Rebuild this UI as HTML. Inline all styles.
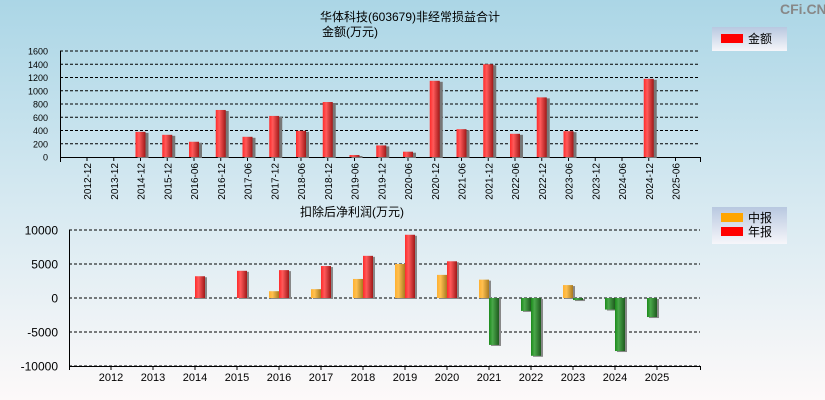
<!DOCTYPE html>
<html><head><meta charset="utf-8">
<style>
body{margin:0;width:825px;height:400px;overflow:hidden;font-family:"Liberation Sans","Noto Sans CJK SC",sans-serif;}
svg{display:block}
</style></head>
<body>
<svg id="c" width="825" height="400" xmlns="http://www.w3.org/2000/svg" font-family="Liberation Sans, Noto Sans CJK SC, sans-serif">
<defs>
<linearGradient id="bg" x1="0" y1="0" x2="0" y2="1"><stop offset="0" stop-color="#abd6e6"/><stop offset="0.5" stop-color="#d6e9f1"/><stop offset="1" stop-color="#fdf9f9"/></linearGradient>
<linearGradient id="red" x1="0" x2="1"><stop offset="0" stop-color="#ff2a2a"/><stop offset="0.35" stop-color="#ff5a5a"/><stop offset="1" stop-color="#a01818"/></linearGradient>
<linearGradient id="org" x1="0" x2="1"><stop offset="0" stop-color="#ffb030"/><stop offset="0.35" stop-color="#ffc050"/><stop offset="1" stop-color="#a87a20"/></linearGradient>
<linearGradient id="grn" x1="0" x2="1"><stop offset="0" stop-color="#1a8a1a"/><stop offset="0.35" stop-color="#4aa84a"/><stop offset="1" stop-color="#1e5a1e"/></linearGradient>
<linearGradient id="lg" x1="0" y1="0" x2="0" y2="1"><stop offset="0" stop-color="#b8c8e0"/><stop offset="1" stop-color="#f6f6fa"/></linearGradient>
</defs>
<rect width="825" height="400" fill="url(#bg)"/>
<text x="780" y="14" font-size="14" fill="#888" font-weight="bold">CFi.CN</text>
<text x="410" y="21" font-size="12" text-anchor="middle">华体科技(603679)非经常损益合计</text>
<text x="322" y="36" font-size="12">金额(万元)</text>
<g>
<rect x="712" y="27" width="75" height="24" fill="url(#lg)"/>
<rect x="721" y="34" width="22" height="9" fill="#f00"/>
<text x="748" y="43" font-size="12">金额</text>
</g>
<text x="352" y="216" font-size="12" text-anchor="middle">扣除后净利润(万元)</text>
<g>
<rect x="712" y="207" width="75" height="37" fill="url(#lg)"/>
<rect x="721" y="213" width="22" height="9" fill="#ffa500"/>
<text x="748" y="222" font-size="12">中报</text>
<rect x="721" y="227" width="22" height="9" fill="#f00"/>
<text x="748" y="236" font-size="12">年报</text>
</g>
<g id="top"></g><g id="bot"></g>
</svg>
<script>
const topCats=["2012-12","2013-12","2014-12","2015-12","2016-06","2016-12","2017-06","2017-12","2018-06","2018-12","2019-06","2019-12","2020-06","2020-12","2021-06","2021-12","2022-06","2022-12","2023-06","2023-12","2024-06","2024-12","2025-06"];
const topVals=[0,0,380,335,230,710,305,620,395,830,30,175,80,1150,420,1400,350,900,390,0,0,1180,0];
const topTicks=[0,200,400,600,800,1000,1200,1400,1600];
const botYears=["2012","2013","2014","2015","2016","2017","2018","2019","2020","2021","2022","2023","2024","2025"];
const midVals=[0,0,0,0,1000,1300,2800,5000,3400,2700,-1900,1900,-1700,-2800];
const annVals=[0,0,3200,4000,4100,4700,6200,9300,5400,-6900,-8500,-300,-7800,0];
const botTicks=[-10000,-5000,0,5000,10000];

const NS="http://www.w3.org/2000/svg";
function mk(p,t,a,txt){const e=document.createElementNS(NS,t);for(const k in a)e.setAttribute(k,a[k]);if(txt!==undefined)e.textContent=txt;p.appendChild(e);return e;}

// top chart
const T=document.getElementById('top');
const ty=v=>157-v*(106/1600);
const tx=i=>87+i*26.75;
topTicks.forEach(v=>{
  if(v>0){const l=mk(T,'line',{x1:60,x2:700,y1:ty(v),y2:ty(v),stroke:'#000','stroke-dasharray':'3,2','stroke-width':1});
  
  }
  const t=mk(T,'text',{x:48,y:ty(v)+3.5,'font-size':9,'text-anchor':'end'},v);
  
  
});
mk(T,'line',{x1:60.5,x2:60.5,y1:51,y2:162,stroke:'#000'});
mk(T,'line',{x1:60,x2:700,y1:157.5,y2:157.5,stroke:'#000'});
mk(T,'line',{x1:700.5,x2:700.5,y1:157,y2:162,stroke:'#000'});
topCats.forEach((c,i)=>{
  const x=tx(i);
  mk(T,'line',{x1:x,x2:x,y1:157,y2:161,stroke:'#000'});
  const t=mk(T,'text',{x:0,y:0,'font-size':10,'text-anchor':'end',transform:`translate(${x+4},${163}) rotate(-90)`},c);
  
  
  if(topVals[i]>0){
    const h=157-ty(topVals[i]);
    mk(T,'rect',{x:x-3,y:ty(topVals[i])+1,width:11,height:h,fill:'#777'});
    const r=mk(T,'rect',{x:x-5,y:ty(topVals[i]),width:10,height:h,fill:'url(#red)'});
    
    
  }
});

// bottom chart
const B=document.getElementById('bot');
const by=v=>298-v*(68/10000);
const bx=i=>111+i*42;
botTicks.forEach(v=>{
  const l=mk(B,'line',{x1:69,x2:700,y1:by(v),y2:by(v),stroke:'#000','stroke-dasharray':'3,2'});
  
  
  const t=mk(B,'text',{x:58,y:by(v)+4.5,'font-size':12,'text-anchor':'end'},v);
  
  
});
mk(B,'rect',{x:69,y:230,width:631,height:136,fill:'none'});
mk(B,'line',{x1:69.5,x2:69.5,y1:230,y2:370,stroke:'#000'});
mk(B,'line',{x1:69,x2:700,y1:366.5,y2:366.5,stroke:'#000'});
mk(B,'line',{x1:700.5,x2:700.5,y1:366,y2:370,stroke:'#000'});
function bar(x,v,col,name){
  if(v===0)return;
  const y0=by(Math.max(v,0)),h=Math.abs(by(v)-by(0));
  const fill=v<0?'url(#grn)':col;
  mk(B,'rect',{x:x+2,y:y0+1,width:10,height:h,fill:'#888'});
  const r=mk(B,'rect',{x:x,y:y0,width:10,height:h,fill:fill});
  
  
}
botYears.forEach((yr,i)=>{
  const x=bx(i);
  mk(B,'line',{x1:x,x2:x,y1:366,y2:370,stroke:'#000'});
  const t=mk(B,'text',{x:x,y:381,'font-size':11,'text-anchor':'middle'},yr);
  
  
  bar(x-10,midVals[i],'url(#org)','mid-bar-'+yr);
  bar(x,annVals[i],'url(#red)','annual-bar-'+yr);
});
</script>
</body></html>
